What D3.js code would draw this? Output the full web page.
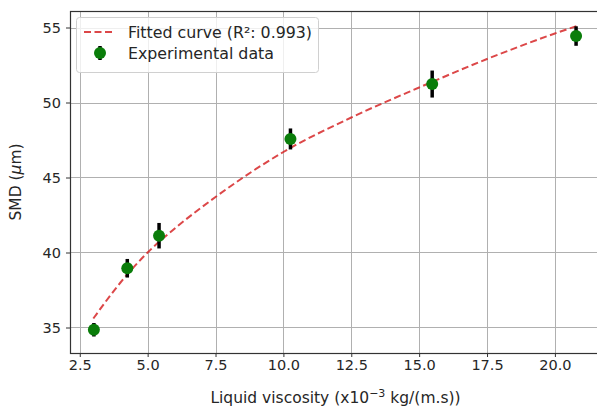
<!DOCTYPE html>
<html>
<head>
<meta charset="utf-8">
<script src="https://cdn.jsdelivr.net/npm/d3@7"></script>
<style>
  html, body { margin: 0; padding: 0; background: #fff; }
  svg text { font-family: "DejaVu Sans", sans-serif; fill: #262626; }
</style>
</head>
<body>
<div id="viz"></div>
<script>
const WIDTH = 597;
const HEIGHT = 409;

// Experimental points (viscosity, SMD, error half-height)
const viscosity = [3.02, 4.25, 5.42, 10.26, 15.48, 20.78];
const smd = [34.85, 38.95, 41.12, 47.57, 51.23, 54.43];
const smdErr = [0.45, 0.62, 0.85, 0.7, 0.9, 0.65];

// Fitted curve
const fitX = [3.0, 4.0, 5.0, 6.0, 7.5, 10.0, 12.5, 15.0, 17.5, 20.0, 20.8];
const fitY = [35.6, 38.0, 40.0, 41.6, 43.7, 46.7, 49.0, 51.0, 52.9, 54.6, 55.1];

const xTicks = [2.5, 5.0, 7.5, 10.0, 12.5, 15.0, 17.5, 20.0];
const yTicks = [35, 40, 45, 50, 55];

const margin = { left: 70, top: 11, right: 600, bottom: 353 };

function main() {
  const svg = d3.select('#viz')
    .append('svg')
    .attr('width', WIDTH)
    .attr('height', HEIGHT);

  const x = d3.scaleLinear().domain([2.14, 21.69]).range([margin.left, margin.left + (21.69 - 2.14) * 27.15]);
  const y = d3.scaleLinear().domain([33.3, 56.1]).range([margin.bottom, margin.top]);

  // grid
  const grid = svg.append('g').attr('stroke', '#b0b0b0').attr('stroke-width', 1);
  grid.selectAll('line.gx').data(xTicks).join('line')
    .attr('class', 'gx')
    .attr('x1', (d) => Math.round(x(d)) + 0.5).attr('x2', (d) => Math.round(x(d)) + 0.5)
    .attr('y1', margin.top).attr('y2', margin.bottom);
  grid.selectAll('line.gy').data(yTicks).join('line')
    .attr('class', 'gy')
    .attr('y1', (d) => Math.round(y(d)) + 0.5).attr('y2', (d) => Math.round(y(d)) + 0.5)
    .attr('x1', margin.left).attr('x2', WIDTH);

  // axes
  const xAxis = svg.append('g')
    .attr('transform', `translate(0,${margin.bottom})`)
    .call(d3.axisBottom(x).tickValues(xTicks).tickFormat(d3.format('.1f')).tickSize(4).tickPadding(3));
  const yAxis = svg.append('g')
    .attr('transform', `translate(${margin.left},0)`)
    .call(d3.axisLeft(y).tickValues(yTicks).tickFormat(d3.format('d')).tickSize(4).tickPadding(5));
  [xAxis, yAxis].forEach((a) => {
    a.select('.domain').remove();
    a.selectAll('.tick line').attr('stroke', '#333');
    a.selectAll('.tick text').attr('font-size', 14.5).attr('fill', '#262626')
      .attr('font-family', '"DejaVu Sans", sans-serif');
  });

  // frame
  svg.append('rect')
    .attr('x', margin.left + 0.5).attr('y', margin.top + 0.5)
    .attr('width', WIDTH + 10 - margin.left).attr('height', margin.bottom - margin.top)
    .attr('fill', 'none').attr('stroke', '#333').attr('stroke-width', 1.2);

  // fitted curve
  const line = d3.line().x((d) => x(d[0])).y((d) => y(d[1])).curve(d3.curveMonotoneX);
  svg.append('path')
    .datum(d3.zip(fitX, fitY))
    .attr('d', line)
    .attr('fill', 'none')
    .attr('stroke', '#d62728')
    .attr('stroke-opacity', 0.85)
    .attr('stroke-width', 2)
    .attr('stroke-dasharray', '7,3.5');

  // error bars and points
  const pts = viscosity.map((v, i) => ({ x: v, y: smd[i], e: smdErr[i] }));
  svg.append('g').selectAll('line').data(pts).join('line')
    .attr('x1', (d) => x(d.x)).attr('x2', (d) => x(d.x))
    .attr('y1', (d) => y(d.y - d.e)).attr('y2', (d) => y(d.y + d.e))
    .attr('stroke', '#000').attr('stroke-width', 3.5);
  svg.append('g').selectAll('circle').data(pts).join('circle')
    .attr('cx', (d) => x(d.x)).attr('cy', (d) => y(d.y))
    .attr('r', 6)
    .attr('fill', '#0a7d0a');

  // legend
  const lg = svg.append('g');
  lg.append('rect')
    .attr('x', 76.5).attr('y', 17.5).attr('width', 242).attr('height', 55)
    .attr('rx', 3).attr('fill', '#fff').attr('fill-opacity', 0.8)
    .attr('stroke', '#d0d0d0');
  lg.append('line')
    .attr('x1', 84).attr('x2', 115).attr('y1', 32).attr('y2', 32)
    .attr('stroke', '#d62728').attr('stroke-opacity', 0.85)
    .attr('stroke-width', 2).attr('stroke-dasharray', '7,3.5');
  lg.append('text').attr('x', 128).attr('y', 37.5).attr('font-size', 15.8)
    .text('Fitted curve (R²: 0.993)');
  lg.append('line')
    .attr('x1', 100).attr('x2', 100).attr('y1', 46).attr('y2', 60)
    .attr('stroke', '#000').attr('stroke-width', 3.5);
  lg.append('circle').attr('cx', 100).attr('cy', 53).attr('r', 6).attr('fill', '#0a7d0a');
  lg.append('text').attr('x', 128).attr('y', 59).attr('font-size', 15.8)
    .text('Experimental data');

  // axis labels
  const xl = svg.append('text')
    .attr('x', (margin.left + WIDTH) / 2 + 2).attr('y', 403)
    .attr('text-anchor', 'middle').attr('font-size', 15.5);
  xl.append('tspan').text('Liquid viscosity (x10');
  xl.append('tspan').attr('dy', -6).attr('font-size', 11).text('−3');
  xl.append('tspan').attr('dy', 6).text(' kg/(m.s))');

  const yl = svg.append('text')
    .attr('transform', `translate(21,${(margin.top + margin.bottom) / 2}) rotate(-90)`)
    .attr('text-anchor', 'middle').attr('font-size', 15.5);
  yl.append('tspan').text('SMD (');
  yl.append('tspan').attr('font-style', 'italic').text('μ');
  yl.append('tspan').text('m)');
}

main();
</script>
</body>
</html>
